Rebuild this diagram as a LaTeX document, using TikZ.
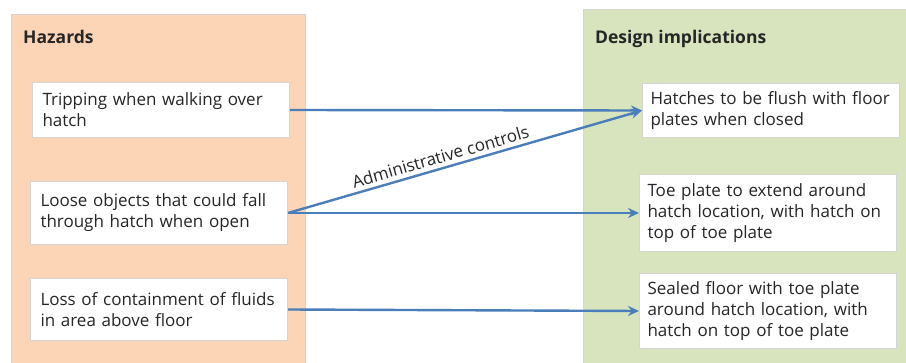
\documentclass[tikz,border=0pt]{standalone}
\usepackage{fontspec}
\setmainfont{Open Sans}
\usetikzlibrary{arrows.meta}
\definecolor{peach}{HTML}{FBD5B5}
\definecolor{sage}{HTML}{D7E4BD}
\definecolor{edgegray}{HTML}{D4D4D4}
\definecolor{arrowblue}{HTML}{4A7EBB}
\definecolor{txt}{HTML}{262626}
\tikzset{
  panel/.style={draw=edgegray, line width=1pt},
  item/.style={draw=edgegray, line width=1pt, fill=white, anchor=north west,
    inner xsep=10pt, inner ysep=0pt, align=left, text=txt,
    font=\fontsize{17}{21}\selectfont},
  title/.style={anchor=base west, inner sep=0pt, text=txt, font=\fontsize{17.5}{20}\selectfont\bfseries},
  conn/.style={draw=arrowblue, line width=2.4pt, -{Stealth[length=11pt,width=10pt]}},
}
\begin{document}
\begin{tikzpicture}[x=1pt,y=-1pt]
\useasboundingbox (0,0) rectangle (906,363);
\fill[white] (0,0) rectangle (906,363);
\draw[panel, fill=peach] (11,15) rectangle (305,370);
\draw[panel, fill=sage] (583,10) rectangle (915,370);
\node[title] (th) at (23,44) {Hazards};
\node[title] (td) at (595,44) {Design implications};
\node[item, minimum width=257pt, minimum height=55pt, text width=237pt] (h1) at (32,82) {Tripping when walking over\\hatch};
\node[item, minimum width=257pt, minimum height=63pt, text width=237pt] (h2) at (30,181) {Loose objects that could fall\\through hatch when open};
\node[item, minimum width=257pt, minimum height=62pt, text width=237pt] (h3) at (30,278) {Loss of containment of fluids\\in area above floor};
\node[item, minimum width=257pt, minimum height=54pt, text width=241pt, inner xsep=8pt] (d1) at (642,83) {Hatches to be flush with floor\\plates when closed};
\node[item, minimum width=257pt, minimum height=77pt, text width=241pt, inner xsep=8pt] (d2) at (639,174) {Toe plate to extend around\\hatch location, with hatch on\\top of toe plate};
\node[item, minimum width=257pt, minimum height=75pt, text width=241pt, inner xsep=8pt] (d3) at (639,273) {Sealed floor with toe plate\\around hatch location, with\\hatch on top of toe plate};
\draw[conn] (h1.east) -- (d1.west);
\draw[conn] (h2.east) -- (d2.west);
\draw[conn] (h3.east) -- (d3.west);
\draw[conn] (h2.east) -- node[pos=0.44, sloped, above, inner sep=4pt, text=txt, font=\fontsize{17}{20}\selectfont] (lab) {Administrative controls} (d1.west);
\end{tikzpicture}
\end{document}
